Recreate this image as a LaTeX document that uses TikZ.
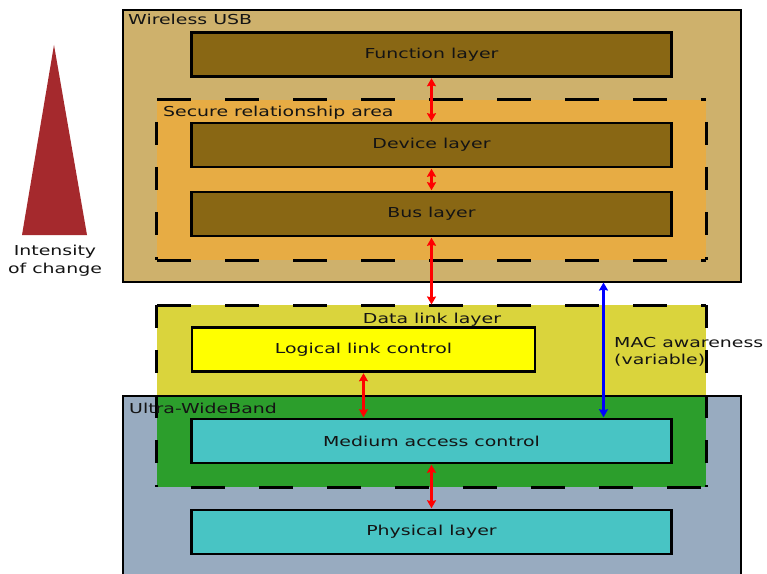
\documentclass[tikz,border=0pt]{standalone}
\usepackage{fontspec}
\setmainfont[FakeStretch=1.38]{DejaVu Sans}
\usetikzlibrary{arrows.meta,calc}
\definecolor{wusbfill}{RGB}{206,177,108}
\definecolor{securefill}{RGB}{231,172,68}
\definecolor{layerfill}{RGB}{137,103,20}
\definecolor{dlfill}{RGB}{218,212,60}
\definecolor{llcfill}{RGB}{255,255,0}
\definecolor{uwbfill}{RGB}{152,171,192}
\definecolor{overlapfill}{RGB}{44,158,44}
\definecolor{macfill}{RGB}{72,196,196}
\definecolor{trifill}{RGB}{165,41,45}
\definecolor{txt}{RGB}{20,20,20}
\begin{document}
\begin{tikzpicture}[x=1bp,y=-1bp,
  every node/.style={font=\fontsize{13.7bp}{17bp}\selectfont, text=txt},
  area/.style={rectangle, inner sep=0pt, outer sep=0pt},
  layerbox/.style={rectangle, draw=black, line width=2.5bp, inner sep=0pt,
    minimum width=480bp, minimum height=44bp, fill=layerfill},
  label/.style={inner sep=0pt},
  hdash/.style={line width=3bp, dash pattern=on 34bp off 34bp},
  vdash/.style={line width=3bp, dash pattern=on 23bp off 22bp},
  dblarrow/.style={line width=2.8bp, shorten <=0.5bp, shorten >=0.5bp,
    {Stealth[length=8bp,width=9bp,inset=1bp]}-{Stealth[length=8bp,width=9bp,inset=1bp]}}
]
\useasboundingbox (0,0) rectangle (767,574);
\fill[white] (0,0) rectangle (767,574);

% intensity triangle
\fill[trifill] (54,45) -- (87,235) -- (22,235) -- cycle;
\node[label, anchor=base] (int1) at (55,255) {Intensity};
\node[label, anchor=base] (int2) at (55,273) {of change};

% Wireless USB
\node[area, fill=wusbfill, draw=black, line width=2.5bp,
  minimum width=618bp, minimum height=272bp] (wusb) at (432,146) {};
\node[label, anchor=base west] (lwusb) at (128,25) {Wireless USB};

% secure relationship area
\node[area, fill=securefill, minimum width=549bp, minimum height=160bp] (secure) at (431.5,180) {};
\draw[hdash] (secure.north west) -- (secure.north east);
\draw[hdash] (secure.south west) -- (secure.south east);
\draw[vdash, dash phase=23bp] (secure.north west) -- (secure.south west);
\draw[vdash, dash phase=23bp] (secure.north east) -- (secure.south east);
\node[label, anchor=base west] (lsecure) at (163,117) {Secure relationship area};

\node[layerbox] (func) at (431.5,54.5) {Function layer};
\node[layerbox] (dev) at (431.5,145) {Device layer};
\node[layerbox] (bus) at (431.5,214) {Bus layer};

% data link layer + UWB
\node[area, fill=dlfill, minimum width=549bp, minimum height=182bp] (datalink) at (431.5,396) {};
\node[area, fill=uwbfill, minimum width=618bp, minimum height=194bp] (uwb) at (432,493) {};
\fill[overlapfill] (datalink.south west) rectangle (datalink.east |- uwb.north);
\draw[line width=2.5bp] (uwb.south west) -- (uwb.north west) -- (uwb.north east) -- (uwb.south east);
\draw[hdash] (datalink.north west) -- (datalink.north east);
\draw[hdash, dash phase=34bp] (datalink.south west) -- (datalink.south east);
\draw[vdash] (datalink.north west) -- (datalink.south west);
\draw[vdash] (datalink.north east) -- (datalink.south east);
\node[label, anchor=base] (ldl) at (432,323) {Data link layer};
\node[label, anchor=base west] (luwb) at (129,413) {Ultra-WideBand};

\node[layerbox, fill=llcfill, minimum width=343bp] (llc) at (363.5,349.5) {Logical link control};
\node[layerbox, fill=macfill] (mac) at (431.5,441) {Medium access control};
\node[layerbox, fill=macfill] (phy) at (431.5,532) {Physical layer};

% MAC awareness
\node[label, anchor=base west] (maw1) at (614,347) {MAC awareness};
\node[label, anchor=base west] (maw2) at (614,364) {(variable)};

% arrows
\draw[dblarrow, red] (func.south) -- (dev.north);
\draw[dblarrow, red] (dev.south) -- (bus.north);
\draw[dblarrow, red] (bus.south) -- (bus.south |- datalink.north);
\draw[dblarrow, red] (llc.south) -- (llc.south |- mac.north);
\draw[dblarrow, red] (mac.south) -- (phy.north);
\coordinate (macx) at (603.5,0);
\draw[dblarrow, blue] (macx |- wusb.south) -- (macx |- mac.north);
\end{tikzpicture}
\end{document}
